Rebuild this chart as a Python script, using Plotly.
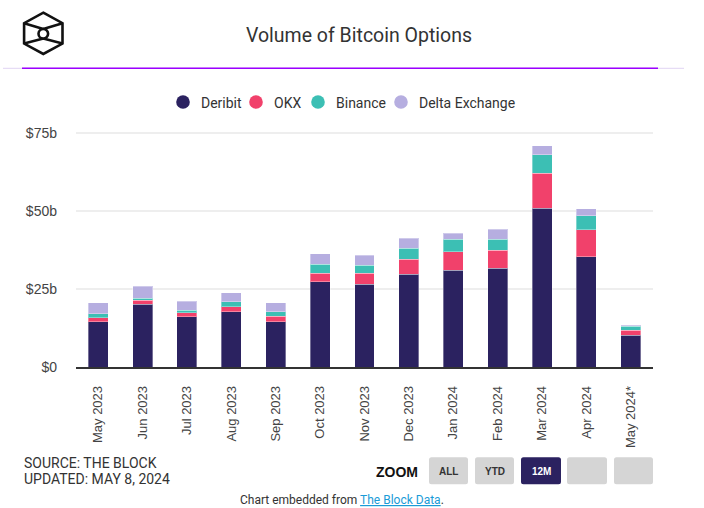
import plotly.graph_objects as go

# ---------------- data (USD billions) ----------------
months = ["May 2023", "Jun 2023", "Jul 2023", "Aug 2023", "Sep 2023", "Oct 2023",
          "Nov 2023", "Dec 2023", "Jan 2024", "Feb 2024", "Mar 2024", "Apr 2024", "May 2024*"]
deribit = [14.5, 20.1, 16.1, 17.7, 14.5, 27.3, 26.5, 29.7, 31.0, 31.7, 50.9, 35.3, 10.2]
okx = [1.3, 1.3, 1.3, 1.6, 1.7, 2.7, 3.5, 4.8, 5.9, 5.7, 11.2, 8.6, 1.6]
binance = [1.3, 0.6, 0.8, 1.6, 1.5, 2.9, 2.6, 3.5, 4.0, 3.5, 5.9, 4.6, 1.2]
delta = [3.5, 3.8, 2.8, 2.9, 2.9, 3.3, 3.2, 3.3, 2.0, 3.2, 2.9, 2.1, 0.4]

series_names = ["Deribit", "OKX", "Binance", "Delta Exchange"]
series_values = [deribit, okx, binance, delta]
series_colors = ["#2b2260", "#f1416b", "#3cbfb4", "#b6aee0"]

y_tickvals = [0, 25, 50, 75]
y_ticktext = ["$0", "$25b", "$50b", "$75b"]

# ---------------- geometry helpers ----------------
W, H = 704, 508
L, R, T, B = 76, 51, 120, 141
PW, PH = W - L - R, H - T - B
YMAX = PH / (234.2 / 75.0)


def px(x):
    return (x - L) / PW


def py(y):
    return (H - B - y) / PH


def path_px(points, close=True):
    s = "M " + " L ".join(f"{px(x):.5f},{py(y):.5f}" for x, y in points)
    return s + (" Z" if close else "")


def rrect(x0, y0, x1, y1, r=2.5):
    pts = (f"M {px(x0 + r):.5f},{py(y0):.5f} L {px(x1 - r):.5f},{py(y0):.5f} "
           f"Q {px(x1):.5f},{py(y0):.5f} {px(x1):.5f},{py(y0 + r):.5f} "
           f"L {px(x1):.5f},{py(y1 - r):.5f} "
           f"Q {px(x1):.5f},{py(y1):.5f} {px(x1 - r):.5f},{py(y1):.5f} "
           f"L {px(x0 + r):.5f},{py(y1):.5f} "
           f"Q {px(x0):.5f},{py(y1):.5f} {px(x0):.5f},{py(y1 - r):.5f} "
           f"L {px(x0):.5f},{py(y0 + r):.5f} "
           f"Q {px(x0):.5f},{py(y0):.5f} {px(x0 + r):.5f},{py(y0):.5f} Z")
    return pts


fig = go.Figure()
for name, vals, col in zip(series_names, series_values, series_colors):
    fig.add_trace(go.Bar(
        x=months, y=vals, name=name, showlegend=False,
        marker=dict(color=col, line=dict(color="rgba(255,255,255,0.35)", width=1)),
    ))

shapes = []
annotations = []

# ---- logo ----
hexagon = [(43.3, 12.7), (62.5, 23.2), (62.5, 43.6), (43.3, 54.0), (24.1, 43.6), (24.1, 23.2)]
lw = 2.6
shapes.append(dict(type="path", xref="paper", yref="paper", path=path_px(hexagon),
                   line=dict(color="#111", width=lw), fillcolor="rgba(0,0,0,0)"))
for a, b in [((24.1, 23.2), (43.3, 29.0)), ((62.5, 23.2), (43.3, 29.0)),
             ((24.1, 43.6), (43.3, 38.6)), ((62.5, 43.6), (43.3, 38.6))]:
    shapes.append(dict(type="path", xref="paper", yref="paper", path=path_px([a, b], close=False),
                       line=dict(color="#111", width=lw)))
cr = 4.8
shapes.append(dict(type="circle", xref="paper", yref="paper",
                   x0=px(43.3 - cr), x1=px(43.3 + cr), y0=py(33.8 + cr), y1=py(33.8 - cr),
                   line=dict(color="#111", width=lw), fillcolor="white"))

# ---- header lines ----
shapes.append(dict(type="line", xref="paper", yref="paper", x0=px(3), x1=px(684), y0=py(68.3), y1=py(68.3),
                   line=dict(color="#e6dcf5", width=1.2)))
shapes.append(dict(type="line", xref="paper", yref="paper", x0=px(22), x1=px(658), y0=py(68.3), y1=py(68.3),
                   line=dict(color="#9b00ff", width=1.6)))

annotations.append(dict(text="Volume of Bitcoin Options", x=px(359), y=py(36), xref="paper", yref="paper",
                        xanchor="center", yanchor="middle", showarrow=False,
                        font=dict(family="Roboto", size=19.5, color="#333333")))

# ---- legend (manual, circles) ----
leg_marker_x = [183, 256, 318, 401]
leg_y = 102
for name, col, mx in zip(series_names, series_colors, leg_marker_x):
    r = 6.8
    shapes.append(dict(type="circle", xref="paper", yref="paper",
                       x0=px(mx - r), x1=px(mx + r), y0=py(leg_y + r), y1=py(leg_y - r),
                       line=dict(width=0), fillcolor=col))
    annotations.append(dict(text=name, x=px(mx + 16), y=py(leg_y + 0.5), xref="paper", yref="paper",
                            xanchor="left", yanchor="middle", showarrow=False,
                            font=dict(family="Roboto", size=14, color="#333333")))

# ---- footer ----
annotations.append(dict(text="SOURCE: THE BLOCK", x=px(22), y=py(463), xref="paper", yref="paper",
                        xanchor="left", yanchor="middle", showarrow=False,
                        font=dict(family="Roboto", size=14, color="#333333")))
annotations.append(dict(text="UPDATED: MAY 8, 2024", x=px(22), y=py(479), xref="paper", yref="paper",
                        xanchor="left", yanchor="middle", showarrow=False,
                        font=dict(family="Roboto", size=14, color="#333333")))
annotations.append(dict(text="<b>ZOOM</b>", x=px(420), y=py(471.5), xref="paper", yref="paper",
                        xanchor="right", yanchor="middle", showarrow=False,
                        font=dict(family="Liberation Sans", size=14, color="#111111")))

buttons = [("ALL", 429, 468, False), ("YTD", 475, 514, False), ("12M", 521, 561, True),
           ("", 567, 607, False), ("", 614, 653, False)]
for label, x0, x1, active in buttons:
    shapes.append(dict(type="path", xref="paper", yref="paper", path=rrect(x0, 457.3, x1, 484.3),
                       line=dict(width=0), fillcolor="#2b2260" if active else "#d5d5d5"))
    if label:
        annotations.append(dict(text=f"<b>{label}</b>", x=px((x0 + x1) / 2), y=py(471.5),
                                xref="paper", yref="paper", xanchor="center", yanchor="middle",
                                showarrow=False,
                                font=dict(family="Liberation Sans", size=10,
                                          color="#ffffff" if active else "#333333")))

annotations.append(dict(
    text='Chart embedded from <span style="color:#1a9bd7;text-decoration:underline">The Block Data</span>.',
    x=px(342), y=py(500), xref="paper", yref="paper", xanchor="center", yanchor="middle",
    showarrow=False, font=dict(family="Roboto", size=12, color="#333333")))

fig.update_layout(
    width=W, height=H, barmode="stack", bargap=0.55,
    margin=dict(l=L, r=R, t=T, b=B, pad=0),
    paper_bgcolor="white", plot_bgcolor="white",
    showlegend=False, shapes=shapes, annotations=annotations,
    xaxis=dict(type="category", showgrid=False, showline=True, linecolor="#333333", linewidth=1.5,
               tickangle=-90, ticks="", ticklabelstandoff=12,
               tickfont=dict(family="Liberation Sans", size=13, color="#444444"), fixedrange=True),
    yaxis=dict(range=[0, YMAX], tickvals=y_tickvals, ticktext=y_ticktext, showgrid=True,
               gridcolor="#eeeeee", gridwidth=1.5, zeroline=False, ticks="", ticklabelstandoff=18,
               tickfont=dict(family="Liberation Sans", size=14, color="#444444"), fixedrange=True),
)

fig.write_html("out.html", config={"displayModeBar": False})
